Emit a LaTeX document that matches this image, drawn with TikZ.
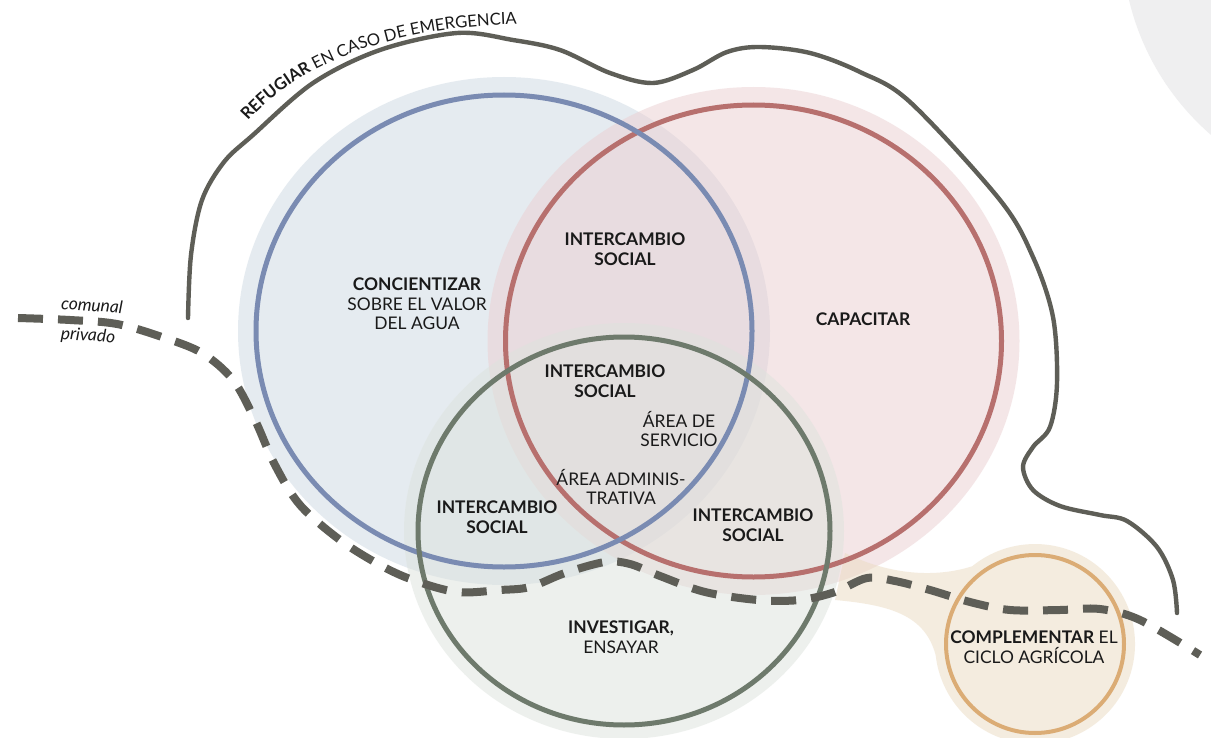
\documentclass[tikz,border=0pt]{standalone}
\usepackage{fontspec}
\setmainfont{Lato}
\usetikzlibrary{decorations.text}
\definecolor{blueR}{HTML}{7A8BB2}
\definecolor{redR}{HTML}{B7706E}
\definecolor{greenR}{HTML}{6E7A6C}
\definecolor{orangeR}{HTML}{DBAC75}
\definecolor{blueH}{HTML}{CDD9E3}
\definecolor{redH}{HTML}{EBCFD1}
\definecolor{greenH}{HTML}{DDE3DD}
\definecolor{orangeH}{HTML}{EBDBC1}
\definecolor{lineC}{HTML}{5E5E57}
\definecolor{grayC}{HTML}{EFEFF0}
\definecolor{txt}{HTML}{1A1A1A}
\begin{document}
\begin{tikzpicture}[x=0.5pt,y=-0.5pt,
  halo/.style={fill opacity=0.5},
  ring/.style={line width=2.5pt},
  outline/.style={draw=lineC, line width=2.2pt, line cap=round},
  dashline/.style={draw=lineC, line width=4pt, dash pattern=on 12.5pt off 7.5pt},
  lbl/.style={font=\fontsize{8.7}{9.8}\selectfont, align=center, text=txt, inner sep=0pt},
  small/.style={font=\fontsize{8.7}{9.8}\selectfont\itshape, text=txt, inner sep=0pt, rotate=-4}]
\useasboundingbox (0,0) rectangle (1211,738);
\clip (0,0) rectangle (1211,738);
\fill[white] (0,0) rectangle (1211,738);
\fontsize{8.7}{9.8}\selectfont
% background corner circle
\fill[grayC] (1380,-60) circle[radius=258];
% halos
\fill[blueH, halo] (504,331) ellipse[x radius=266, y radius=254];
\fill[redH, halo] (753.5,341) ellipse[x radius=266, y radius=254];
\fill[greenH, halo] (624,531) ellipse[x radius=220, y radius=208];
\fill[orangeH, halo] (845,553) .. controls (890,575) and (935,578) .. (972.1,566.3)
   arc[start angle=231, end angle=533.6, radius=100]
   .. controls (925,615) and (890,605) .. (835,600) -- cycle;
% rings
\draw[redR, ring] (753.5,341) ellipse[x radius=248, y radius=236];
\draw[blueR, ring] (504,331) ellipse[x radius=248, y radius=236];
\draw[greenR, ring] (624,531) ellipse[x radius=206, y radius=194];
\draw[orangeR, line width=2pt] (1035,644) circle[radius=89];
% refuge outline
\draw[outline] plot[smooth, tension=0.55] coordinates {(188,318) (191,255) (202,200) (224,162) (253,135) (313,83) (380,50) (457,33) (513,40) (560,50) (610,73) (653,83) (693,70) (727,52) (760,47) (810,53) (860,72) (910,102) (1000,200) (1033,257) (1053,317) (1057,383) (1050,427) (1033,447) (1023,467) (1033,490) (1060,506) (1100,515) (1127,521) (1157,547) (1173,580) (1177,613)};
% dashed boundary comunal/privado
\draw[dashline] plot[smooth, tension=0.55] coordinates {(18,318) (70,320) (117,324) (162,337) (202,353) (233,380) (255,420) (275,465) (300,505) (340,540) (380,565) (413,580) (457,592) (500,590) (530,587) (565,573) (605,562) (630,564) (660,576) (705,592) (758,600) (800,600) (835,592) (867,578) (895,581) (930,590) (970,602) (1010,610) (1060,610) (1100,609) (1140,620) (1200,655)};
% text along outline
\path[decorate, decoration={text along path, text color=txt,
   text={|\fontsize{8.3}{9}\selectfont\bfseries|REFUGIAR|\fontsize{8.3}{9}\selectfont\mdseries| EN CASO DE EMERGENCIA}}]
   (248,121) .. controls (290,74) and (375,24) .. (535,24);
% labels
\node[lbl] (conc) at (417,304) {\textbf{CONCIENTIZAR}\\SOBRE EL VALOR\\DEL AGUA};
\node[lbl] (i1) at (625,249) {\textbf{INTERCAMBIO}\\\textbf{SOCIAL}};
\node[lbl] (cap) at (863,319) {\textbf{CAPACITAR}};
\node[lbl] (i2) at (605,381) {\textbf{INTERCAMBIO}\\\textbf{SOCIAL}};
\node[lbl] (serv) at (679,429) {ÁREA DE\\SERVICIO};
\node[lbl] (adm) at (621,487) {ÁREA ADMINIS-\\TRATIVA};
\node[lbl] (i3) at (497,517) {\textbf{INTERCAMBIO}\\\textbf{SOCIAL}};
\node[lbl] (i4) at (753,525) {\textbf{INTERCAMBIO}\\\textbf{SOCIAL}};
\node[lbl] (inv) at (621,637) {\textbf{INVESTIGAR,}\\ENSAYAR};
\node[lbl] (comp) at (1034,647) {\textbf{COMPLEMENTAR} EL\\CICLO AGRÍCOLA};
\node[small] (com) at (92,305) {comunal};
\node[small] (pri) at (88,336) {privado};
\end{tikzpicture}
\end{document}
